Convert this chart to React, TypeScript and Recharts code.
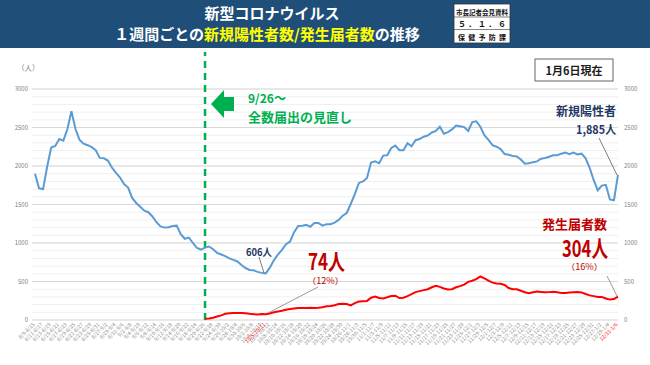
import { LineChart, Line, XAxis, YAxis, CartesianGrid, ReferenceLine } from 'recharts';

// weekly windows: 8/9-8/15 ... 12/31-1/6, one per day
function buildWeekLabels(): string[] {
  const out: string[] = [];
  const start = Date.UTC(2022, 7, 9);
  const day = 86400000;
  for (let i = 0; i < 145; i++) {
    const a = new Date(start + i * day);
    const b = new Date(start + (i + 6) * day);
    out.push(`${a.getUTCMonth() + 1}/${a.getUTCDate()}-${b.getUTCMonth() + 1}/${b.getUTCDate()}`);
  }
  return out;
}
const weekLabels = buildWeekLabels();

// 新規陽性者数 (1週間)
const newPositives = [
  1900, 1710, 1700, 1990, 2240, 2260, 2350, 2330, 2480, 2710,
  2480, 2340, 2290, 2270, 2245, 2205, 2105, 2100, 2070, 1980,
  1910, 1850, 1765, 1720, 1585, 1520, 1470, 1420, 1400, 1345,
  1270, 1215, 1200, 1205, 1220, 1225, 1115, 1055, 1070, 1000,
  935, 915, 940, 955, 920, 870, 850, 830, 800, 780,
  760, 715, 675, 650, 645, 625, 612, 606, 680, 775,
  850, 910, 985, 1020, 1140, 1220, 1225, 1235, 1210, 1260,
  1260, 1225, 1245, 1245, 1265, 1300, 1355, 1390, 1510, 1635,
  1780, 1800, 1845, 2045, 2060, 2035, 2135, 2140, 2235, 2265,
  2205, 2205, 2295, 2255, 2335, 2350, 2380, 2395, 2435, 2455,
  2510, 2420, 2440, 2475, 2525, 2515, 2505, 2455, 2570, 2580,
  2510, 2400, 2340, 2270, 2250, 2220, 2155, 2145, 2130, 2125,
  2085, 2030, 2035, 2050, 2060, 2095, 2105, 2120, 2140, 2140,
  2160, 2175, 2155, 2175, 2150, 2160, 2100, 1975, 1815, 1685,
  1745, 1755, 1565, 1555, 1885,
];

// 発生届者数 (9/20-9/26 以降)
const notifiedFrom926 = [
  15, 20, 30, 45, 60, 80, 87, 91,
  90, 92, 88, 80, 75, 72, 78, 74, 85, 100,
  110, 120, 132, 142, 150, 155, 156, 155, 158, 157,
  160, 165, 178, 183, 192, 208, 210, 208, 190, 220,
  240, 245, 248, 290, 305, 285, 280, 295, 312, 315,
  285, 290, 310, 335, 362, 375, 388, 400, 425, 445,
  430, 410, 395, 400, 425, 440, 460, 495, 510, 530,
  565, 540, 512, 485, 475, 470, 455, 415, 400, 398,
  380, 360, 348, 360, 370, 365, 360, 362, 368, 360,
  350, 352, 358, 360, 362, 358, 338, 320, 310, 300,
  300, 280, 265, 272, 304,
];
const notifiedStart = 42;

const gridTicks = [
  0, 100, 200, 300, 400, 500, 600, 700, 800, 900, 1000,
  1100, 1200, 1300, 1400, 1500, 1600, 1700, 1800, 1900, 2000,
  2100, 2200, 2300, 2400, 2500, 2600, 2700, 2800, 2900, 3000,
];
const majorTicks = [0, 500, 1000, 1500, 2000, 2500, 3000];
const highlightWeeks = [57, 144];

const data = weekLabels.map((week, i) => ({
  week,
  positives: newPositives[i],
  notified: i >= notifiedStart ? notifiedFrom926[i - notifiedStart] : null,
}));

const FONT = '"Noto Sans CJK JP", "Noto Sans", sans-serif';
const NAVY = '#1f3864';
const DARKRED = '#c00000';
const GREEN = '#00b050';

function WeekTick(props: any) {
  const { x, y, payload } = props;
  const idx = weekLabels.indexOf(payload.value);
  const hl = highlightWeeks.includes(idx);
  if (idx % 2 !== 0 && !hl) return <g />;
  return (
    <text
      x={x}
      y={y + 3}
      transform={`rotate(-45, ${x}, ${y + 3})`}
      textAnchor="end"
      fontSize={5.2}
      fontFamily={FONT}
      fill={hl ? '#ff0000' : '#8c8c8c'}
    >
      {payload.value}
    </text>
  );
}

function LeftTick(props: any) {
  const { x, y, payload } = props;
  if (payload.value % 500 !== 0) return <g />;
  return (
    <text x={x} y={y} dy="0.35em" textAnchor="end" fontSize={6} fontFamily={FONT} fill="#7f7f7f">
      {payload.value}
    </text>
  );
}

function RightTick(props: any) {
  const { x, y, payload } = props;
  return (
    <text x={x} y={y} dy="0.35em" textAnchor="start" fontSize={6} fontFamily={FONT} fill="#7f7f7f">
      {payload.value}
    </text>
  );
}

export default function App() {
  return (
    <div style={{ position: 'absolute', left: 0, top: 0, width: 650, height: 365, background: '#fff', fontFamily: FONT }}>
      <LineChart width={650} height={365} data={data} margin={{ top: 89, right: 0, bottom: 0, left: 0 }}>
        <CartesianGrid vertical={false} stroke="#efefef" />
        {majorTicks.map((t) => (
          <ReferenceLine key={t} y={t} stroke="#d9d9d9" strokeWidth={1.2} />
        ))}
        <XAxis
          dataKey="week"
          interval={0}
          height={45}
          tickLine={false}
          axisLine={false}
          tickSize={0}
          padding={{ left: 3, right: 0 }}
          tick={<WeekTick />}
        />
        <YAxis
          domain={[0, 3000]}
          ticks={gridTicks}
          interval={0}
          width={32}
          tickLine={false}
          axisLine={false}
          tickSize={0}
          tickMargin={4}
          tick={<LeftTick />}
        />
        <YAxis
          yAxisId="right"
          orientation="right"
          domain={[0, 3000]}
          ticks={majorTicks}
          interval={0}
          width={32}
          tickLine={false}
          axisLine={false}
          tickSize={0}
          tickMargin={6}
          tick={<RightTick />}
        />
        <ReferenceLine
          segment={[
            { x: weekLabels[notifiedStart], y: 0 },
            { x: weekLabels[notifiedStart], y: 3480 },
          ]}
          ifOverflow="visible"
          stroke={GREEN}
          strokeWidth={2.5}
          strokeDasharray="7 5"
        />
        <Line
          dataKey="positives"
          stroke="#5b9bd5"
          strokeWidth={2}
          dot={false}
          isAnimationActive={false}
        />
        <Line
          yAxisId="right"
          dataKey="notified"
          stroke="#ff0000"
          strokeWidth={2}
          dot={false}
          isAnimationActive={false}
        />
      </LineChart>

      <svg
        width={650}
        height={365}
        style={{ position: 'absolute', left: 0, top: 0, pointerEvents: 'none' }}
        fontFamily={FONT}
      >
        {/* title bar */}
        <rect x={0} y={0} width={650} height={48} fill="#1f4e79" />
        <text x={272} y={19} textAnchor="middle" fontSize={15} fontWeight="bold" fill="#fff">
          新型コロナウイルス
        </text>
        <text x={267} y={39.5} textAnchor="middle" fontSize={15} fontWeight="bold" fill="#fff">
          １週間ごとの<tspan fill="#ffff00">新規陽性者数/発生届者数</tspan>の推移
        </text>

        <rect x={454} y={4} width={56} height={39} fill="#fff" stroke="#333" strokeWidth={0.8} />
        <line x1={454} y1={17} x2={510} y2={17} stroke="#333" strokeWidth={0.6} />
        <line x1={454} y1={29.5} x2={510} y2={29.5} stroke="#333" strokeWidth={0.6} />
        <text x={482} y={14.5} textAnchor="middle" fontSize={6.5} fontWeight="bold" fill="#111">
          市長記者会見資料
        </text>
        <text x={482} y={27} textAnchor="middle" fontSize={8} fontWeight="bold" fill="#111" textLength={48}>
          ５．１．６
        </text>
        <text x={482} y={39.5} textAnchor="middle" fontSize={7} fontWeight="bold" fill="#111" textLength={48}>
          保健予防課
        </text>

        <text x={17} y={71} fontSize={7.5} fill="#7f7f7f">（人）</text>

        <rect x={535} y={59} width={78} height={22} fill="#fff" stroke="#7f7f7f" strokeWidth={1.2} />
        <text x={574} y={75} textAnchor="middle" fontSize={11} fontWeight="bold" fill="#1a1a1a">
          1月6日現在
        </text>

        {/* 全数届出の見直し */}
        <polygon points="211,104 224,90 224,97 234,97 234,111 224,111 224,118" fill={GREEN} />
        <text x={248} y={103} fontSize={12} fontWeight="bold" fill={GREEN}>9/26～</text>
        <text x={248} y={121.5} fontSize={13} fontWeight="bold" fill={GREEN}>全数届出の見直し</text>

        {/* 606人 */}
        <text x={246} y={256} fontSize={10.5} fontWeight="bold" fill={NAVY} textLength={26} lengthAdjust="spacingAndGlyphs">
          606人
        </text>
        <line x1={259} y1={257} x2={264} y2={273} stroke="#595959" strokeWidth={0.8} />

        {/* 74人 */}
        <text x={308} y={270} fontSize={22} fontWeight="bold" fill={DARKRED} textLength={37} lengthAdjust="spacingAndGlyphs">
          74人
        </text>
        <text x={307} y={284} fontSize={8.5} fill={DARKRED} textLength={37} lengthAdjust="spacingAndGlyphs">
          （12%）
        </text>
        <line x1={318} y1={287} x2={268} y2={313} stroke="#7f7f7f" strokeWidth={0.8} />

        {/* 新規陽性者 1,885人 */}
        <text x={616} y={116} textAnchor="end" fontSize={12} fontWeight="bold" fill={NAVY}>新規陽性者</text>
        <text x={616} y={134} textAnchor="end" fontSize={12} fontWeight="bold" fill={NAVY} textLength={40} lengthAdjust="spacingAndGlyphs">
          1,885人
        </text>
        <line x1={599} y1={138} x2={617} y2={175} stroke="#595959" strokeWidth={0.8} />

        {/* 発生届者数 304人 */}
        <text x={607} y={229} textAnchor="end" fontSize={13} fontWeight="bold" fill={DARKRED}>発生届者数</text>
        <text x={562} y={257} fontSize={23} fontWeight="bold" fill={DARKRED} textLength={46} lengthAdjust="spacingAndGlyphs">
          304人
        </text>
        <text x={566} y={270} fontSize={8.5} fill={DARKRED} textLength={37} lengthAdjust="spacingAndGlyphs">
          （16%）
        </text>
        <line x1={607} y1={276} x2={617} y2={296} stroke="#7f7f7f" strokeWidth={0.8} />
      </svg>
    </div>
  );
}
